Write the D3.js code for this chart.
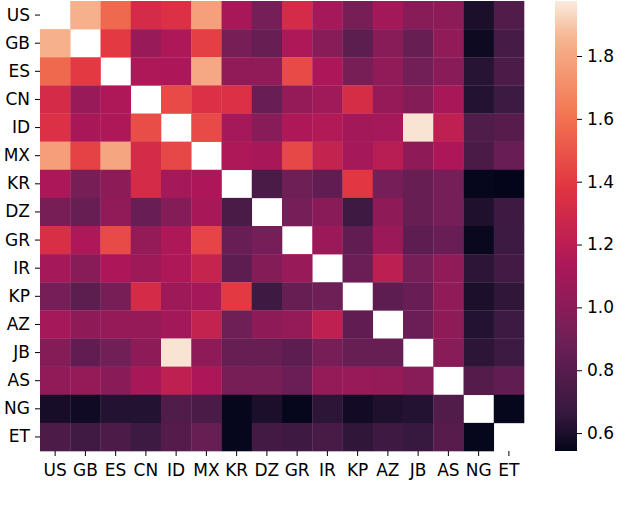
<!DOCTYPE html>
<html>
<head>
<meta charset="utf-8">
<script src="https://cdn.jsdelivr.net/npm/d3@7"></script>
<style>
html, body { margin: 0; padding: 0; background: #fff; }
svg { display: block; font-family: "DejaVu Sans", sans-serif; }
</style>
</head>
<body>
<svg id="chart" width="640" height="509"></svg>
<script>
const categories = ["US","GB","ES","CN","ID","MX","KR","DZ","GR","IR","KP","AZ","JB","AS","NG","ET"];

const rowUS = [null,1.84,1.57,1.32,1.35,1.78,1.12,0.92,1.32,1.11,0.93,1.10,0.99,1.01,0.60,0.78];
const rowGB = [1.84,null,1.40,1.06,1.15,1.42,0.93,0.86,1.15,0.99,0.82,0.99,0.86,1.03,0.57,0.73];
const rowES = [1.57,1.40,null,1.15,1.14,1.81,1.03,1.03,1.46,1.14,0.93,1.03,0.91,1.00,0.63,0.76];
const rowCN = [1.32,1.06,1.15,null,1.46,1.35,1.35,0.87,1.04,1.09,1.33,1.05,0.98,1.12,0.62,0.69];
const rowID = [1.35,1.12,1.15,1.47,null,1.46,1.11,0.99,1.15,1.16,1.10,1.11,1.96,1.22,0.77,0.80];
const rowMX = [1.77,1.43,1.80,1.32,1.45,null,1.15,1.12,1.45,1.24,1.11,1.19,1.02,1.14,0.75,0.87];
const rowKR = [1.13,0.93,1.01,1.32,1.11,1.14,null,0.75,0.89,0.84,1.39,0.92,0.86,0.92,0.55,0.545];
const rowDZ = [0.93,0.86,1.03,0.87,0.98,1.12,0.75,null,0.92,1.00,0.70,1.02,0.86,0.92,0.61,0.70];
const rowGR = [1.34,1.15,1.46,1.04,1.15,1.44,0.87,0.92,null,1.07,0.84,1.07,0.83,0.87,0.56,0.69];
const rowIR = [1.11,0.99,1.14,1.08,1.15,1.25,0.83,0.98,1.06,null,0.88,1.21,0.92,1.03,0.64,0.72];
const rowKP = [0.92,0.82,0.93,1.32,1.08,1.11,1.40,0.70,0.86,0.89,null,0.83,0.87,1.03,0.60,0.65];
const rowAZ = [1.11,1.02,1.05,1.05,1.10,1.24,0.89,1.02,1.04,1.22,0.84,null,0.88,1.02,0.62,0.69];
const rowJB = [0.98,0.84,0.90,1.01,1.96,1.02,0.86,0.86,0.83,0.93,0.86,0.86,null,0.99,0.64,0.69];
const rowAS = [1.03,1.04,1.00,1.12,1.22,1.14,0.93,0.93,0.88,1.04,1.06,1.04,0.99,null,0.79,0.84];
const rowNG = [0.59,0.575,0.62,0.62,0.77,0.75,0.55,0.60,0.55,0.64,0.58,0.61,0.62,0.78,null,0.55];
const rowET = [0.76,0.71,0.76,0.69,0.79,0.86,0.55,0.72,0.70,0.74,0.65,0.70,0.67,0.80,0.55,null];

const matrix = [rowUS,rowGB,rowES,rowCN,rowID,rowMX,rowKR,rowDZ,rowGR,rowIR,rowKP,rowAZ,rowJB,rowAS,rowNG,rowET];

const colorTicks = [0.6, 0.8, 1.0, 1.2, 1.4, 1.6, 1.8];
const vmin = 0.543, vmax = 1.975;

// rocket colormap approximation
const rocketStops = [0, 0.0833, 0.25, 0.4167, 0.5833, 0.75, 0.9167, 1];
const rocketColors = ["#03051a", "#35193e", "#701f57", "#ad1759", "#e13342", "#f37651", "#f6b48f", "#faebdd"];
const rocket = d3.scaleLinear().domain(rocketStops).range(rocketColors).interpolate(d3.interpolateRgb).clamp(true);
const color = v => rocket((v - vmin) / (vmax - vmin));

const svg = d3.select("#chart");
const mLeft = 40, mTop = 1, plotW = 484, plotH = 450;
const fontSize = 17;

const x = d3.scaleBand().domain(categories).range([mLeft, mLeft + plotW]);
const y = d3.scaleBand().domain(categories).range([mTop, mTop + plotH]);

const cells = [];
matrix.forEach((row, i) => row.forEach((v, j) => {
  if (v !== null) cells.push({r: categories[i], c: categories[j], v});
}));

svg.append("g").selectAll("rect").data(cells).join("rect")
  .attr("x", d => x(d.c))
  .attr("y", d => y(d.r))
  .attr("width", x.bandwidth() + 0.3)
  .attr("height", y.bandwidth() + 0.3)
  .attr("fill", d => color(d.v));

const xAxis = svg.append("g").attr("transform", `translate(0,${mTop + plotH})`)
  .call(d3.axisBottom(x).tickSize(5).tickPadding(8));
const yAxis = svg.append("g").attr("transform", `translate(${mLeft},0)`)
  .call(d3.axisLeft(y).tickSize(5).tickPadding(5));
[xAxis, yAxis].forEach(g => {
  g.select(".domain").remove();
  g.selectAll("text").attr("font-size", fontSize).attr("font-family", "DejaVu Sans, sans-serif").attr("fill", "#000");
  g.selectAll("line").attr("stroke", "#000").attr("stroke-width", 1);
});

// colorbar
const cbX = 555, cbW = 22;
const cy = d3.scaleLinear().domain([vmin, vmax]).range([mTop + plotH, mTop]);
const defs = svg.append("defs");
const grad = defs.append("linearGradient").attr("id", "cbgrad")
  .attr("x1", 0).attr("y1", 1).attr("x2", 0).attr("y2", 0);
d3.range(0, 1.0001, 0.02).forEach(t => {
  grad.append("stop").attr("offset", t).attr("stop-color", rocket(t));
});
svg.append("rect").attr("x", cbX).attr("y", mTop).attr("width", cbW).attr("height", plotH)
  .attr("fill", "url(#cbgrad)");
const cAxis = svg.append("g").attr("transform", `translate(${cbX + cbW},0)`)
  .call(d3.axisRight(cy).tickValues(colorTicks).tickFormat(d3.format(".1f")).tickSize(5).tickPadding(5));
cAxis.select(".domain").remove();
cAxis.selectAll("text").attr("font-size", fontSize).attr("font-family", "DejaVu Sans, sans-serif").attr("fill", "#000");
cAxis.selectAll("line").attr("stroke", "#000");
</script>
</body>
</html>
